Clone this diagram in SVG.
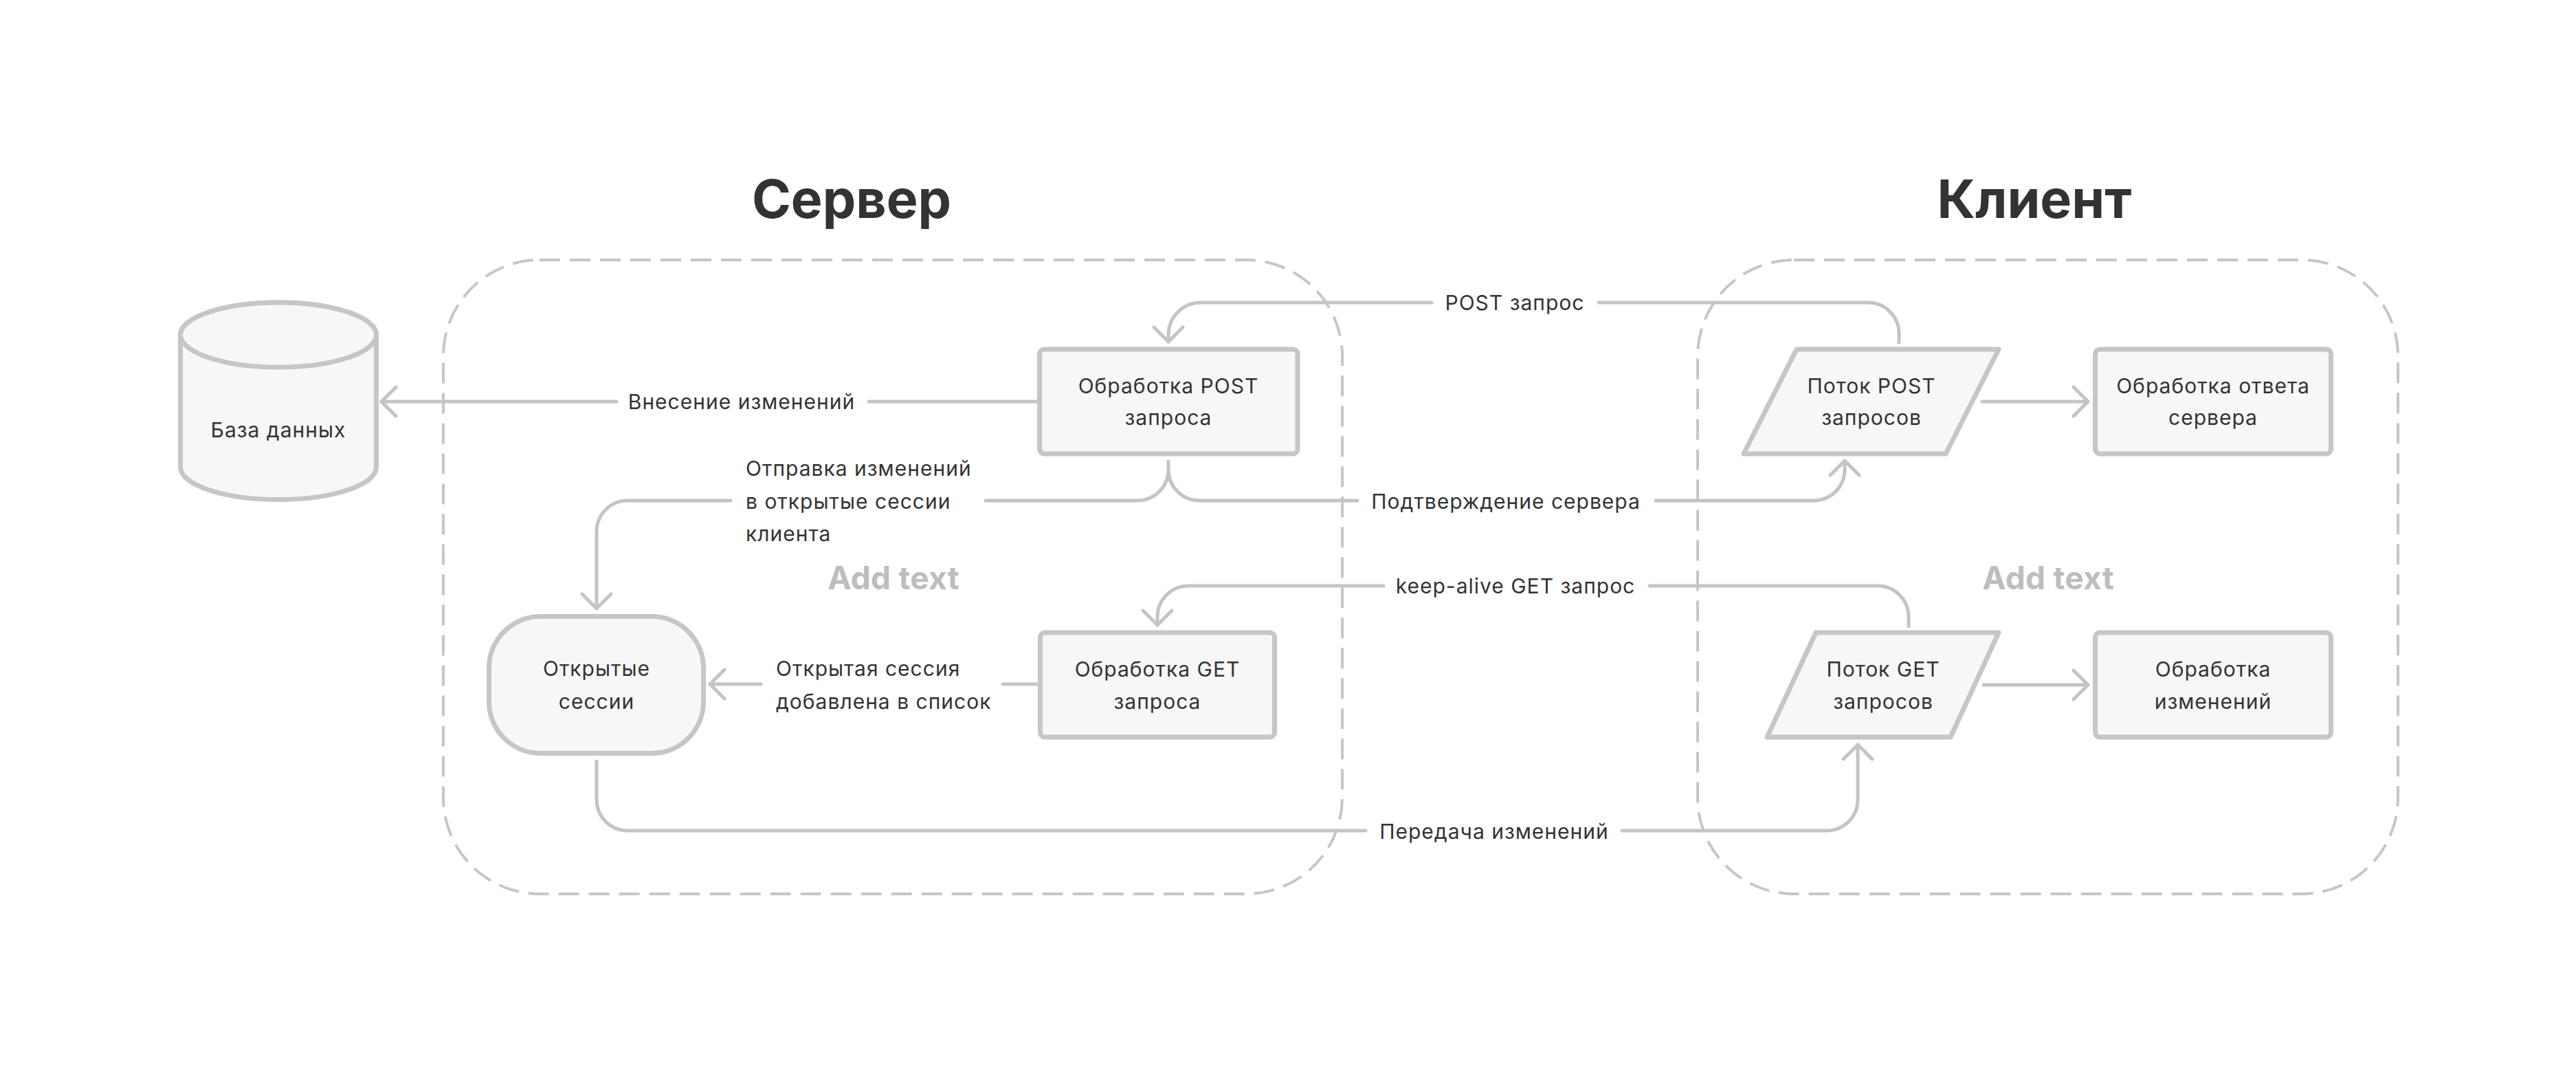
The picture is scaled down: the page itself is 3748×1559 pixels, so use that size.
<svg xmlns="http://www.w3.org/2000/svg" width="3748" height="1559" viewBox="0 0 3748 1559">
<style>
.bg{fill:#ffffff}
.container{fill:none;stroke:#c6c6c6;stroke-width:4;stroke-dasharray:30 14}
.node{fill:#f7f7f7;stroke:#c6c6c6;stroke-width:7;stroke-linejoin:round}
.conn{fill:none;stroke:#c4c4c4;stroke-width:5;stroke-linecap:round;stroke-linejoin:round}
.t{font-family:Inter,"Noto Sans","DejaVu Sans",sans-serif;font-size:30px;letter-spacing:1px;fill:#333333}
.c{text-anchor:middle}
.title{font-family:Inter,"Noto Sans","DejaVu Sans",sans-serif;font-size:77px;font-weight:700;fill:#333333;text-anchor:middle}
.add{font-family:Inter,"Noto Sans","DejaVu Sans",sans-serif;font-size:46px;font-weight:700;letter-spacing:0.3px;fill:#bdbdbd;text-anchor:middle}
</style>
<defs>
<marker id="arr" viewBox="-30 -30 60 60" markerWidth="60" markerHeight="60" markerUnits="userSpaceOnUse" refX="0" refY="0" orient="auto" overflow="visible">
<path d="M-21,-21 L0,0 L-21,21" fill="none" stroke="#c4c4c4" stroke-width="5" stroke-linecap="round" stroke-linejoin="round"/>
</marker>
</defs>
<rect class="bg" x="0" y="0" width="3748" height="1559"/>

<g id="server-container">
<rect class="container" x="645" y="378" width="1308" height="922" rx="140"/>
<text class="title" x="1239" y="317">Сервер</text>
<text class="add" x="1300" y="857">Add text</text>
</g>
<g id="client-container">
<rect class="container" x="2470" y="378" width="1019" height="922" rx="140"/>
<text class="title" x="2960" y="317">Клиент</text>
<text class="add" x="2980" y="857">Add text</text>
</g>

<g id="connectors">
<path class="conn" d="M2763,498 V485 A45,45 0 0 0 2718,440 H2326"/>
<path class="conn" d="M2083,440 H1747 A47,47 0 0 0 1700,487 V497" marker-end="url(#arr)"/>
<text class="t c" x="2204" y="451">POST запрос</text>

<path class="conn" d="M1509,584 H1264"/>
<path class="conn" d="M897,584 H555" marker-end="url(#arr)"/>
<text class="t c" x="1079" y="595">Внесение изменений</text>

<path class="conn" d="M1700,671 V683 A45,45 0 0 1 1655,728 H1434"/>
<path class="conn" d="M1063,728 H913 A45,45 0 0 0 868,773 V885" marker-end="url(#arr)"/>
<text class="t" x="1085" y="692">Отправка изменений</text>
<text class="t" x="1085" y="740">в открытые сессии</text>
<text class="t" x="1085" y="787">клиента</text>

<path class="conn" d="M1700,683 A45,45 0 0 0 1745,728 H1975"/>
<path class="conn" d="M2409,728 H2639 A45,45 0 0 0 2684,683 V670" marker-end="url(#arr)"/>
<text class="t c" x="2191" y="740">Подтверждение сервера</text>

<path class="conn" d="M2777,911 V897 A45,45 0 0 0 2732,852 H2400"/>
<path class="conn" d="M2013,852 H1729 A45,45 0 0 0 1684,897 V909" marker-end="url(#arr)"/>
<text class="t c" x="2205" y="863">keep-alive GET запрос</text>

<path class="conn" d="M1508,995 H1459"/>
<path class="conn" d="M1107,995 H1033" marker-end="url(#arr)"/>
<text class="t" x="1129" y="983">Открытая сессия</text>
<text class="t" x="1129" y="1031">добавлена в список</text>

<path class="conn" d="M868,1107 V1163 A45,45 0 0 0 913,1208 H1987"/>
<path class="conn" d="M2360,1208 H2658 A45,45 0 0 0 2703,1163 V1083" marker-end="url(#arr)"/>
<text class="t c" x="2174" y="1220">Передача изменений</text>

<path class="conn" d="M2884,584 H3038" marker-end="url(#arr)"/>
<path class="conn" d="M2886,996 H3038" marker-end="url(#arr)"/>
</g>

<g id="db">
<path class="node" d="M262.5,487 A142.5,47 0 0 1 547.5,487 V679.5 A142.5,47 0 0 1 262.5,679.5 Z"/>
<ellipse class="node" cx="405" cy="487" rx="142.5" ry="47"/>
<text class="t c" x="405" y="636">База данных</text>
</g>

<g id="srv-post">
<rect class="node" x="1512.5" y="508" width="375.5" height="152" rx="7"/>
<text class="t c" x="1700" y="572">Обработка POST</text>
<text class="t c" x="1700" y="618">запроса</text>
</g>

<g id="srv-get">
<rect class="node" x="1513.5" y="920" width="341" height="152" rx="7"/>
<text class="t c" x="1684" y="984">Обработка GET</text>
<text class="t c" x="1684" y="1031">запроса</text>
</g>

<g id="sessions">
<rect class="node" x="711.5" y="896.5" width="312" height="199" rx="75"/>
<text class="t c" x="868" y="983">Открытые</text>
<text class="t c" x="868" y="1031">сессии</text>
</g>

<g id="cli-post">
<path class="node" d="M2614,508 H2908 L2831,660 H2537 Z"/>
<text class="t c" x="2723" y="572">Поток POST</text>
<text class="t c" x="2723" y="618">запросов</text>
</g>

<g id="cli-resp">
<rect class="node" x="3048.5" y="508" width="343" height="152" rx="7"/>
<text class="t c" x="3220" y="572">Обработка ответа</text>
<text class="t c" x="3220" y="618">сервера</text>
</g>

<g id="cli-get">
<path class="node" d="M2642,920 H2908 L2838,1072 H2571 Z"/>
<text class="t c" x="2740" y="984">Поток GET</text>
<text class="t c" x="2740" y="1031">запросов</text>
</g>

<g id="cli-changes">
<rect class="node" x="3048.5" y="920" width="343" height="152" rx="7"/>
<text class="t c" x="3220" y="984">Обработка</text>
<text class="t c" x="3220" y="1031">изменений</text>
</g>
</svg>
